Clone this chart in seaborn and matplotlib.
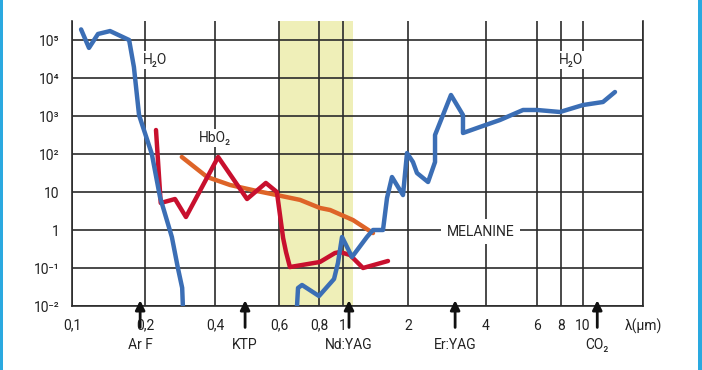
import numpy as np
import pandas as pd
import matplotlib.pyplot as plt
import seaborn as sns
from matplotlib.patches import Rectangle

# Absorption data (wavelength in um)
water_x1 = [0.109, 0.1175, 0.128, 0.1435, 0.172, 0.180, 0.189, 0.214, 0.232, 0.261, 0.277, 0.289, 0.291]
water_y1 = [1.9e5, 6.2e4, 1.44e5, 1.72e5, 1e5, 1.95e4, 1.06e3, 100, 7.4, 0.65, 0.1, 0.03, 0.01]

water_x2 = [0.683, 0.688, 0.708, 0.8, 0.92, 0.954, 0.991, 1.101, 1.291, 1.377, 1.532, 1.599,
            1.686, 1.896, 1.979, 2.09, 2.166, 2.39, 2.543, 2.543, 2.93, 3.26, 3.26, 3.79,
            4.47, 5.37, 6.0, 7.9, 10.0, 12.16, 13.68]
water_y2 = [0.01, 0.0298, 0.0357, 0.0183, 0.0514, 0.135, 0.655, 0.195, 0.655, 1.0, 1.0, 6.95,
            24.8, 8.3, 106, 61.5, 31.6, 18.3, 61.5, 316, 3570, 1060, 357, 514,
            785, 1440, 1440, 1275, 1945, 2335, 4285]

hbo2_x = [0.223, 0.2337, 0.2692, 0.300, 0.408, 0.490, 0.552, 0.592, 0.618, 0.631, 0.649,
          0.807, 0.928, 0.972, 1.077, 1.238, 1.616]
hbo2_y = [428, 5.14, 6.54, 2.2, 83.4, 6.54, 17.3, 10, 0.615, 0.264, 0.106,
          0.144, 0.248, 0.264, 0.22, 0.1, 0.153]

melanin_x = [0.288, 0.370, 0.44, 0.522, 0.592, 0.698, 0.807, 0.887, 1.112, 1.377]
melanin_y = [83.4, 24.8, 15.3, 10.6, 8.3, 6.2, 3.8, 3.36, 1.83, 0.83]

lasers = ["Ar F", "KTP", "Nd:YAG", "Er:YAG", "CO₂"]
laser_um = [0.191, 0.484, 1.066, 3.04, 11.5]

window = (0.6, 1.11)

x_ticks = [0.1, 0.2, 0.4, 0.6, 0.8, 1, 2, 4, 6, 8, 10, 18]
x_labels = ["0,1", "0,2", "0,4", "0,6", "0,8", "1", "2", "4", "6", "8", "10", "λ(µm)"]
y_ticks = [1e-2, 1e-1, 1, 10, 1e2, 1e3, 1e4, 1e5]
y_labels = ["10⁻²", "10⁻¹", "1", "10", "10²", "10³", "10⁴", "10⁵"]

# the printed axis is only roughly logarithmic: piecewise log scale
knot_log = np.log10(x_ticks)
knot_pos = np.array([72, 145, 215, 279, 319, 343, 408, 486, 537, 561, 583, 643], dtype=float)


def fwd(x):
    x = np.clip(np.asarray(x, dtype=float), 1e-6, None)
    return np.interp(np.log10(x), knot_log, knot_pos)


def inv(p):
    return 10 ** np.interp(np.asarray(p, dtype=float), knot_pos, knot_log)


sns.set_style("white")
plt.rcParams['font.family'] = ['Roboto', 'DejaVu Sans']

fig, ax = plt.subplots(figsize=(7.02, 3.70), dpi=100)
fig.subplots_adjust(left=72 / 702, right=643 / 702, bottom=1 - 306 / 370, top=1 - 21 / 370)

ax.set_xscale('function', functions=(fwd, inv))
ax.set_yscale('log')
ax.set_xlim(0.1, 18)
ax.set_ylim(1e-2, 10 ** 5.5)

ax.axvspan(*window, color="#efefb8", lw=0, zorder=0.1)

blue, red, orange = "#3b6eb5", "#c8102e", "#de6428"
lw = 3.2
sns.lineplot(x=water_x1, y=water_y1, sort=False, estimator=None, color=blue, lw=lw, ax=ax, zorder=3)
sns.lineplot(x=water_x2, y=water_y2, sort=False, estimator=None, color=blue, lw=lw, ax=ax, zorder=3)
sns.lineplot(x=melanin_x, y=melanin_y, sort=False, estimator=None, color=orange, lw=lw, ax=ax, zorder=2)
sns.lineplot(x=hbo2_x, y=hbo2_y, sort=False, estimator=None, color=red, lw=lw, ax=ax, zorder=2.5)

ax.set_xticks(x_ticks)
ax.set_xticklabels(x_labels)
ax.set_yticks(y_ticks)
ax.set_yticklabels(y_labels)
ax.minorticks_off()
ax.tick_params(axis='both', length=0, labelsize=10, colors="#222222")
ax.tick_params(axis='x', pad=9)
ax.tick_params(axis='y', pad=9)

ax.set_axisbelow(True)
ax.grid(True, which='major', color="#2b2b2b", lw=1.2)
for side in ["left", "bottom", "right"]:
    ax.spines[side].set_color("#2b2b2b")
    ax.spines[side].set_linewidth(1.2)
ax.spines["top"].set_visible(False)
ax.set_xlabel("")
ax.set_ylabel("")

box = dict(facecolor="white", edgecolor="none", pad=1.5)
ax.text(0.221, 2.95e4, "H₂O", ha="center", va="center", fontsize=10, bbox=box, zorder=4)
ax.text(8.83, 2.95e4, "H₂O", ha="center", va="center", fontsize=10, bbox=box, zorder=4)
ax.text(0.4, 263, "HbO₂", ha="center", va="center", fontsize=10, bbox=box, zorder=4)
ax.text(3.82, 0.9, "MELANINE", ha="center", va="center", fontsize=10,
        bbox=dict(facecolor="white", edgecolor="none", pad=4), zorder=4)

trans = ax.get_xaxis_transform()
for name, wl in zip(lasers, laser_um):
    ax.annotate("", xy=(wl, 0.03), xytext=(wl, -0.085), xycoords=trans, textcoords=trans,
                arrowprops=dict(arrowstyle="-|>", color="#111111", lw=2, mutation_scale=14),
                annotation_clip=False, zorder=5)
    ax.text(wl, -0.137, name, transform=trans, ha="center", va="center", fontsize=10,
            color="#222222")

# light blue frame on the sides
fig.add_artist(Rectangle((0, 0), 3 / 702, 1, transform=fig.transFigure, color="#2aa9e0", lw=0))
fig.add_artist(Rectangle((698 / 702, 0), 4 / 702, 1, transform=fig.transFigure, color="#2aa9e0", lw=0))

fig.savefig("out.png", dpi=100)
